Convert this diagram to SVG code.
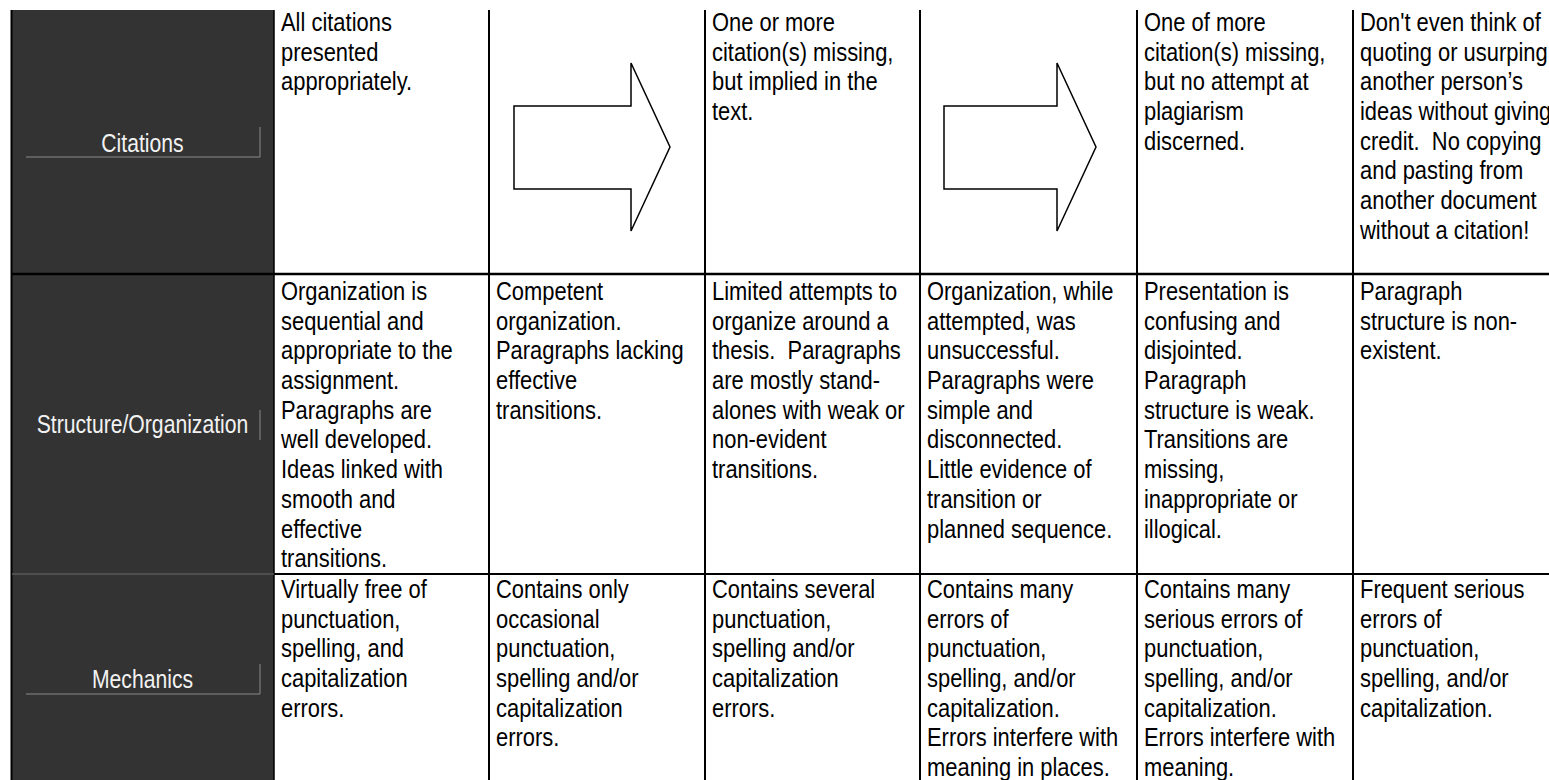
<svg xmlns="http://www.w3.org/2000/svg" width="1549" height="780" viewBox="0 0 1549 780">
<style>
.t{font-family:"Liberation Sans",Arial,sans-serif;font-size:25.5px;fill:#000;white-space:pre}
.lbl{font-family:"Liberation Sans",Arial,sans-serif;font-size:25.5px;fill:#f2f2f2;text-anchor:middle}
.deco{stroke:#8a8a8a;stroke-width:1;fill:none}
.g{stroke:#000;stroke-width:2;fill:none}
.arrow{fill:#fff;stroke:#000;stroke-width:1.5;stroke-linejoin:miter}
</style>
<rect width="1549" height="780" fill="#fff"/>
<g id="grid">
<rect x="12" y="10" width="262" height="775" fill="#333"/>
<line class="g" x1="11.5" y1="10" x2="11.5" y2="780"/>
<line class="g" x1="274" y1="10" x2="274" y2="780" style="stroke-width:1.5"/>
<line class="g" x1="489" y1="10" x2="489" y2="780"/>
<line class="g" x1="705" y1="10" x2="705" y2="780"/>
<line class="g" x1="920" y1="10" x2="920" y2="780"/>
<line class="g" x1="1137" y1="10" x2="1137" y2="780"/>
<line class="g" x1="1353" y1="10" x2="1353" y2="780"/>
<line class="g" x1="11" y1="274" x2="1549" y2="274" style="stroke-width:2.5"/>
<line class="g" x1="274" y1="574" x2="1549" y2="574"/>
<line x1="12" y1="574" x2="274" y2="574" stroke="#5a5a5a" stroke-width="1.5"/>
</g>
<g id="row-citations">
<g id="label-citations">
<text class="lbl" transform="translate(142.5,152) scale(0.83,1)">Citations</text>
<path class="deco" d="M26 157H260V127"/>
</g>
<g id="cit-1"><text class="t" transform="translate(281,31) scale(0.86,1)"><tspan x="0" y="0">All citations</tspan><tspan x="0" dy="29.7">presented</tspan><tspan x="0" dy="29.7">appropriately.</tspan></text></g>
<g id="cit-3"><text class="t" transform="translate(712,31) scale(0.86,1)"><tspan x="0" y="0">One or more</tspan><tspan x="0" dy="29.7">citation(s) missing,</tspan><tspan x="0" dy="29.7">but implied in the</tspan><tspan x="0" dy="29.7">text.</tspan></text></g>
<g id="cit-5"><text class="t" transform="translate(1144,31) scale(0.86,1)"><tspan x="0" y="0">One of more</tspan><tspan x="0" dy="29.7">citation(s) missing,</tspan><tspan x="0" dy="29.7">but no attempt at</tspan><tspan x="0" dy="29.7">plagiarism</tspan><tspan x="0" dy="29.7">discerned.</tspan></text></g>
<g id="cit-6"><text class="t" transform="translate(1360,31) scale(0.86,1)"><tspan x="0" y="0">Don't even think of</tspan><tspan x="0" dy="29.7">quoting or usurping</tspan><tspan x="0" dy="29.7">another person’s</tspan><tspan x="0" dy="29.7">ideas without giving</tspan><tspan x="0" dy="29.7">credit.  No copying</tspan><tspan x="0" dy="29.7">and pasting from</tspan><tspan x="0" dy="29.7">another document</tspan><tspan x="0" dy="29.7">without a citation!</tspan></text></g>
</g>
<g id="connectors">
<polygon id="arrow-1" class="arrow" points="514,106 631,106 631,63 670,147 631,231 631,189 514,189"/>
<polygon id="arrow-2" class="arrow" points="944,106 1057,106 1057,63 1096,147 1057,231 1057,189 944,189"/>
</g>
<g id="row-structure">
<g id="label-structure">
<text class="lbl" transform="translate(142.5,433) scale(0.83,1)">Structure/Organization</text>
<path class="deco" d="M260 410V440"/>
</g>
<g id="str-1"><text class="t" transform="translate(281,300) scale(0.86,1)"><tspan x="0" y="0">Organization is</tspan><tspan x="0" dy="29.7">sequential and</tspan><tspan x="0" dy="29.7">appropriate to the</tspan><tspan x="0" dy="29.7">assignment.</tspan><tspan x="0" dy="29.7">Paragraphs are</tspan><tspan x="0" dy="29.7">well developed.</tspan><tspan x="0" dy="29.7">Ideas linked with</tspan><tspan x="0" dy="29.7">smooth and</tspan><tspan x="0" dy="29.7">effective</tspan><tspan x="0" dy="29.7">transitions.</tspan></text></g>
<g id="str-2"><text class="t" transform="translate(496,300) scale(0.86,1)"><tspan x="0" y="0">Competent</tspan><tspan x="0" dy="29.7">organization.</tspan><tspan x="0" dy="29.7">Paragraphs lacking</tspan><tspan x="0" dy="29.7">effective</tspan><tspan x="0" dy="29.7">transitions.</tspan></text></g>
<g id="str-3"><text class="t" transform="translate(712,300) scale(0.86,1)"><tspan x="0" y="0">Limited attempts to</tspan><tspan x="0" dy="29.7">organize around a</tspan><tspan x="0" dy="29.7">thesis.  Paragraphs</tspan><tspan x="0" dy="29.7">are mostly stand-</tspan><tspan x="0" dy="29.7">alones with weak or</tspan><tspan x="0" dy="29.7">non-evident</tspan><tspan x="0" dy="29.7">transitions.</tspan></text></g>
<g id="str-4"><text class="t" transform="translate(927,300) scale(0.86,1)"><tspan x="0" y="0">Organization, while</tspan><tspan x="0" dy="29.7">attempted, was</tspan><tspan x="0" dy="29.7">unsuccessful.</tspan><tspan x="0" dy="29.7">Paragraphs were</tspan><tspan x="0" dy="29.7">simple and</tspan><tspan x="0" dy="29.7">disconnected.</tspan><tspan x="0" dy="29.7">Little evidence of</tspan><tspan x="0" dy="29.7">transition or</tspan><tspan x="0" dy="29.7">planned sequence.</tspan></text></g>
<g id="str-5"><text class="t" transform="translate(1144,300) scale(0.86,1)"><tspan x="0" y="0">Presentation is</tspan><tspan x="0" dy="29.7">confusing and</tspan><tspan x="0" dy="29.7">disjointed.</tspan><tspan x="0" dy="29.7">Paragraph</tspan><tspan x="0" dy="29.7">structure is weak.</tspan><tspan x="0" dy="29.7">Transitions are</tspan><tspan x="0" dy="29.7">missing,</tspan><tspan x="0" dy="29.7">inappropriate or</tspan><tspan x="0" dy="29.7">illogical.</tspan></text></g>
<g id="str-6"><text class="t" transform="translate(1360,300) scale(0.86,1)"><tspan x="0" y="0">Paragraph</tspan><tspan x="0" dy="29.7">structure is non-</tspan><tspan x="0" dy="29.7">existent.</tspan></text></g>
</g>
<g id="row-mechanics">
<g id="label-mechanics">
<text class="lbl" transform="translate(142.5,688) scale(0.83,1)">Mechanics</text>
<path class="deco" d="M26 694H260V664"/>
</g>
<g id="mec-1"><text class="t" transform="translate(281,598) scale(0.86,1)"><tspan x="0" y="0">Virtually free of</tspan><tspan x="0" dy="29.7">punctuation,</tspan><tspan x="0" dy="29.7">spelling, and</tspan><tspan x="0" dy="29.7">capitalization</tspan><tspan x="0" dy="29.7">errors.</tspan></text></g>
<g id="mec-2"><text class="t" transform="translate(496,598) scale(0.86,1)"><tspan x="0" y="0">Contains only</tspan><tspan x="0" dy="29.7">occasional</tspan><tspan x="0" dy="29.7">punctuation,</tspan><tspan x="0" dy="29.7">spelling and/or</tspan><tspan x="0" dy="29.7">capitalization</tspan><tspan x="0" dy="29.7">errors.</tspan></text></g>
<g id="mec-3"><text class="t" transform="translate(712,598) scale(0.86,1)"><tspan x="0" y="0">Contains several</tspan><tspan x="0" dy="29.7">punctuation,</tspan><tspan x="0" dy="29.7">spelling and/or</tspan><tspan x="0" dy="29.7">capitalization</tspan><tspan x="0" dy="29.7">errors.</tspan></text></g>
<g id="mec-4"><text class="t" transform="translate(927,598) scale(0.86,1)"><tspan x="0" y="0">Contains many</tspan><tspan x="0" dy="29.7">errors of</tspan><tspan x="0" dy="29.7">punctuation,</tspan><tspan x="0" dy="29.7">spelling, and/or</tspan><tspan x="0" dy="29.7">capitalization.</tspan><tspan x="0" dy="29.7">Errors interfere with</tspan><tspan x="0" dy="29.7">meaning in places.</tspan></text></g>
<g id="mec-5"><text class="t" transform="translate(1144,598) scale(0.86,1)"><tspan x="0" y="0">Contains many</tspan><tspan x="0" dy="29.7">serious errors of</tspan><tspan x="0" dy="29.7">punctuation,</tspan><tspan x="0" dy="29.7">spelling, and/or</tspan><tspan x="0" dy="29.7">capitalization.</tspan><tspan x="0" dy="29.7">Errors interfere with</tspan><tspan x="0" dy="29.7">meaning.</tspan></text></g>
<g id="mec-6"><text class="t" transform="translate(1360,598) scale(0.86,1)"><tspan x="0" y="0">Frequent serious</tspan><tspan x="0" dy="29.7">errors of</tspan><tspan x="0" dy="29.7">punctuation,</tspan><tspan x="0" dy="29.7">spelling, and/or</tspan><tspan x="0" dy="29.7">capitalization.</tspan></text></g>
</g>
</svg>
